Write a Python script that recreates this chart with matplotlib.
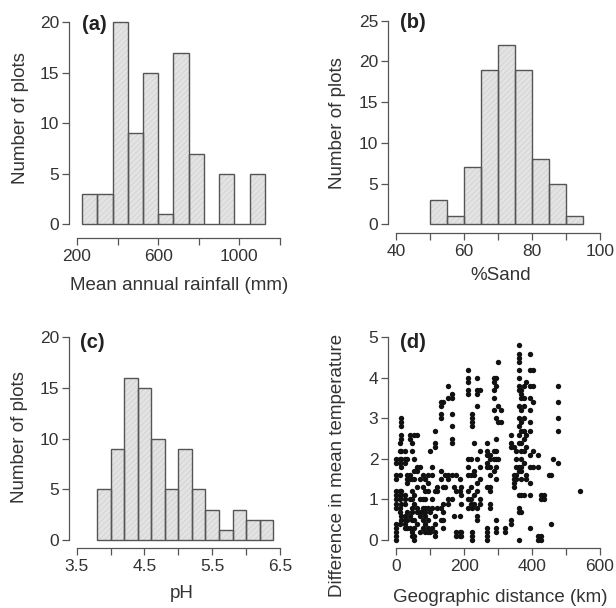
import matplotlib
matplotlib.use("Agg")
import matplotlib.pyplot as plt

plt.rcParams['font.family'] = ['Liberation Sans', 'DejaVu Sans']
plt.rcParams['hatch.linewidth'] = 0.6

# ---------------- data ----------------
# (a) Mean annual rainfall histogram
rain_edges = [225, 300, 375, 450, 525, 600, 675, 750, 825, 900, 975, 1050, 1125]
rain_counts = [3, 3, 20, 9, 15, 1, 17, 7, 0, 5, 0, 5]

# (b) %Sand histogram
sand_edges = [50, 55, 60, 65, 70, 75, 80, 85, 90, 95]
sand_counts = [3, 1, 7, 19, 22, 19, 8, 5, 1]

# (c) pH histogram
ph_edges = [3.8, 4.0, 4.2, 4.4, 4.6, 4.8, 5.0, 5.2, 5.4, 5.6, 5.8, 6.0, 6.2, 6.4]
ph_counts = [5, 9, 16, 15, 10, 5, 9, 5, 3, 1, 3, 2, 2]

# (d) scatter: columns of points (distance, list of temperature differences)
col_dist = [0, 10, 14, 25, 30, 40, 45, 52, 62, 70, 80, 86, 93, 98, 106, 115, 121,
            131, 137, 145, 152, 164, 170, 177, 187, 192, 211, 219, 223, 229, 239,
            246, 268, 275, 288, 295, 300, 308, 320, 339, 347, 354, 362, 369, 376,
            383, 393, 403, 418, 428, 436, 450, 455, 462, 477, 541]
col_temps = [
    [0.0, 0.1, 0.2, 0.3, 0.4, 0.8, 0.9, 1.0, 1.1, 1.2, 1.5, 1.6, 1.9, 2.0],
    [0.4, 0.7, 0.8, 1.0, 1.1, 1.2, 1.6, 1.9, 2.0, 2.2, 2.4],
    [0.5, 0.6, 0.9, 1.1, 1.2, 1.8, 2.0, 2.2, 2.5, 2.6, 2.8, 2.9, 3.0],
    [0.3, 0.4, 0.5, 0.6, 0.9, 1.0, 1.1, 1.9, 2.0, 2.2],
    [0.3, 0.5, 0.7, 1.4, 1.5, 1.6, 2.0],
    [0.3, 0.6, 1.0, 1.5, 1.6, 2.5, 2.6],
    [0.1, 0.2, 0.5, 0.7, 0.8, 1.0, 1.2, 1.5, 2.2, 2.4],
    [0.0, 0.1, 0.3, 0.5, 0.9, 1.1, 1.5, 1.7, 2.0, 2.6],
    [0.4, 0.7, 0.8, 1.3, 1.7, 1.8, 2.6],
    [0.2, 0.6, 0.7, 1.0, 1.5, 1.8],
    [0.3, 0.5, 0.7, 0.8, 1.0, 1.3, 1.6],
    [0.2, 0.4, 0.6, 0.7, 0.8, 1.0, 1.2, 1.5],
    [0.2, 0.3, 0.5, 0.8, 1.2, 1.4, 1.6],
    [0.2, 0.7, 2.2],
    [0.3, 0.8, 1.0, 1.6, 1.8],
    [0.1, 0.2, 0.4, 0.6, 1.2, 2.3, 2.4, 2.7],
    [0.8, 1.2, 1.3],
    [0.5, 0.8, 1.5, 1.7, 3.0, 3.1, 3.3, 3.4],
    [0.3, 0.5, 0.7, 0.9, 1.3, 3.4],
    [1.3, 1.6],
    [0.9, 1.0, 1.5, 1.6, 3.5, 3.8],
    [1.0, 1.6, 2.4, 2.5, 2.8, 3.1, 3.5, 3.6],
    [0.6, 1.3],
    [0.1, 0.2, 1.2, 1.6],
    [0.1, 0.2, 0.6, 1.2, 1.5],
    [0.1, 0.2, 0.9, 1.1, 1.3],
    [0.8, 1.0, 1.2, 1.6, 1.8, 2.0, 3.6, 3.7, 3.9, 4.0, 4.2],
    [0.9, 1.0, 1.3, 1.6, 2.0],
    [0.0, 0.1, 0.2, 0.8, 2.8, 2.9, 3.0, 3.1],
    [0.9, 1.1, 1.6, 1.7, 2.4],
    [0.5, 0.6, 0.8, 1.2, 1.4, 2.0, 3.3, 3.6, 3.7, 4.0],
    [0.9, 1.0, 1.5, 1.8, 2.2, 3.7],
    [0.0, 0.1, 0.2, 0.3, 1.3, 1.8, 1.9, 2.1, 2.2, 2.4],
    [0.8, 0.9, 1.2, 1.3, 1.6, 1.8, 2.0, 2.1],
    [1.7, 2.0, 2.2, 3.2, 3.5, 3.7, 3.9, 4.0],
    [0.2, 0.3, 0.5, 1.5, 1.8, 2.0, 2.2, 2.5, 3.0, 3.8, 4.0],
    [2.0, 2.9, 3.3, 4.4],
    [2.9, 3.2],
    [0.2, 0.3],
    [0.4, 0.5, 2.3, 2.4, 2.6],
    [1.3, 1.4, 1.5, 1.6, 2.3],
    [1.5, 1.6, 1.8, 2.0, 2.2],
    [0.0, 0.7, 0.8, 1.1, 1.7, 1.8, 2.4, 2.6, 2.8, 3.0, 3.3, 3.7, 3.8, 4.0, 4.2, 4.4, 4.5, 4.6, 4.8],
    [0.7, 1.1, 1.5, 1.7, 1.8, 2.0, 2.2, 2.4, 2.7, 2.9, 3.2, 3.5, 3.6, 3.7],
    [1.1, 1.9, 2.2, 2.5, 2.7, 3.0, 3.3, 3.5, 3.8],
    [1.5, 1.6, 2.3, 2.6, 3.9],
    [0.3, 1.1, 1.4, 1.8, 2.1, 2.7, 2.9, 3.2, 3.5, 3.8, 4.2, 4.6],
    [1.8, 2.2, 3.4, 3.8, 4.2],
    [0.0, 0.1, 1.8, 2.1],
    [0.0, 0.1, 1.0, 1.1],
    [1.0, 1.1],
    [1.6],
    [0.4, 1.6],
    [2.0],
    [1.9, 2.7, 3.0, 3.4, 3.8],
    [1.2],
]

# ---------------- style ----------------
W, H = 616, 608
SPINE = '#555555'
TXT = '#333333'
FILL = '#e3e3e3'
HATCH = '#d2d2d2'

fig = plt.figure(figsize=(W / 100, H / 100), dpi=100)


def make_axes(l, r, t, b):
    return fig.add_axes([l / W, 1 - b / H, (r - l) / W, (b - t) / H])


def style(ax, xticks, xlabels, yticks, xlim, ylim):
    ax.set_xlim(*xlim)
    ax.set_ylim(*ylim)
    for s in ('top', 'right'):
        ax.spines[s].set_visible(False)
    for s in ('left', 'bottom'):
        ax.spines[s].set_color(SPINE)
        ax.spines[s].set_linewidth(0.9)
    ax.spines['left'].set_bounds(yticks[0], yticks[-1])
    ax.spines['bottom'].set_bounds(xticks[0], xticks[-1])
    ax.set_xticks(xticks)
    ax.set_xticklabels(xlabels)
    ax.set_yticks(yticks)
    ax.set_yticklabels([str(v) for v in yticks])
    ax.tick_params(axis='both', direction='out', length=5, width=0.9,
                   color=SPINE, labelcolor=TXT, labelsize=12.5)
    ax.tick_params(axis='y', pad=2)
    ax.tick_params(axis='x', pad=3)
    ax.patch.set_alpha(0)


def hist_bars(ax, edges, counts):
    lefts = edges[:-1]
    widths = [edges[i + 1] - edges[i] for i in range(len(counts))]
    ax.bar(lefts, counts, width=widths, align='edge', color=FILL,
           edgecolor=HATCH, hatch='//////', linewidth=0)
    ax.bar(lefts, counts, width=widths, align='edge', fill=False,
           edgecolor=SPINE, linewidth=1.0)


# (a)
axa = make_axes(68.9, 288.1, 14.2, 238.0)
hist_bars(axa, rain_edges, rain_counts)
style(axa, [200, 400, 600, 800, 1000, 1200], ['200', '', '600', '', '1000', ''],
      [0, 5, 10, 15, 20], (160, 1240), (-1.36, 20.8))

# (b)
axb = make_axes(388.2, 607.8, 12.5, 233.3)
hist_bars(axb, sand_edges, sand_counts)
style(axb, [40, 50, 60, 70, 80, 90, 100], ['40', '', '60', '', '80', '', '100'],
      [0, 5, 10, 15, 20, 25], (37.6, 102.4), (-1.1, 26))

# (c)
axc = make_axes(68.6, 288.1, 329.2, 548.3)
hist_bars(axc, ph_edges, ph_counts)
style(axc, [3.5, 4.0, 4.5, 5.0, 5.5, 6.0, 6.5], ['3.5', '', '4.5', '', '5.5', '', '6.5'],
      [0, 5, 10, 15, 20], (3.38, 6.62), (-0.82, 20.8))

# (d)
axd = make_axes(388.2, 607.8, 329.2, 548.3)
xs, ys = [], []
for d, temps in zip(col_dist, col_temps):
    for t in temps:
        xs.append(d)
        ys.append(t)
axd.scatter(xs, ys, s=15, color='#111111', linewidths=0, zorder=3)
style(axd, [0, 100, 200, 300, 400, 500, 600], ['0', '', '200', '', '400', '', '600'],
      [0, 1, 2, 3, 4, 5], (-24, 624), (-0.205, 5.2))


def ftext(x, y, s, **kw):
    kw.setdefault('ha', 'center')
    kw.setdefault('va', 'center')
    kw.setdefault('color', TXT)
    fig.text(x / W, 1 - y / H, s, **kw)


LAB = 13.5
ftext(179, 285, 'Mean annual rainfall (mm)', fontsize=LAB)
ftext(21, 118, 'Number of plots', fontsize=LAB, rotation=90)
ftext(501, 275, '%Sand', fontsize=LAB)
ftext(337, 123, 'Number of plots', fontsize=LAB, rotation=90)
ftext(182, 594, 'pH', fontsize=LAB)
ftext(20, 437, 'Number of plots', fontsize=LAB, rotation=90)
ftext(500, 597, 'Geographic distance (km)', fontsize=LAB)
ftext(337, 465, 'Difference in mean temperature', fontsize=LAB, rotation=90)

PL = dict(fontsize=14.5, fontweight='bold', color='#222222')
ftext(94, 25, '(a)', **PL)
ftext(413, 22, '(b)', **PL)
ftext(92, 342, '(c)', **PL)
ftext(413, 342, '(d)', **PL)

fig.savefig('out.png', dpi=100)
